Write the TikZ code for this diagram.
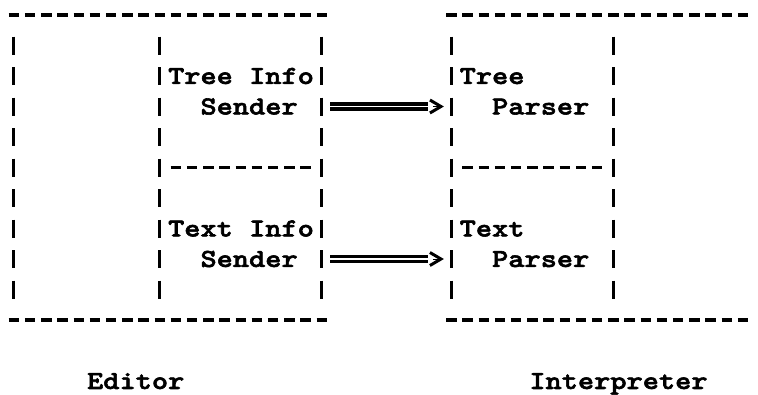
\documentclass[tikz,border=0pt]{standalone}
\usepackage{fontspec}
\newfontfamily\typer[Extension=.otf,FakeStretch=1.187,FakeBold=2.2]{lmmonolt10-bold}
\usetikzlibrary{arrows.meta}

\begin{document}
\begin{tikzpicture}[x=16.2pt,y=-30.5pt,
    every node/.style={inner sep=0pt,anchor=west,text height=15.9pt,text depth=0pt,
      font=\typer\fontsize{26}{30.5}\selectfont},
    hdash/.style={line width=3.2pt,dash pattern=on 10.5pt off 5.7pt},
    vbar/.style={line width=3pt,dash pattern=on 18pt off 12.5pt},
    pipe/.style={double,double distance=1.3pt,line width=3.6pt,shorten <=32.5pt,shorten >=64pt},
    pipehead/.style={-{Straight Barb[length=11pt,width=13pt,line width=3pt]},shorten <=135pt,shorten >=48pt}]
  \useasboundingbox (-0.864,-0.492) rectangle (45.926,12.426);

  \draw[hdash] ([xshift=-5.25pt]0,0) -- ([xshift=5.25pt]19,0);
  \draw[hdash] ([xshift=-5.25pt]27,0) -- ([xshift=5.25pt]45,0);
  \draw[hdash] ([xshift=-5.25pt]10,5) -- ([xshift=5.25pt]18,5);
  \draw[hdash] ([xshift=-5.25pt]28,5) -- ([xshift=5.25pt]36,5);
  \draw[hdash] ([xshift=-5.25pt]0,10) -- ([xshift=5.25pt]19,10);
  \draw[hdash] ([xshift=-5.25pt]27,10) -- ([xshift=5.25pt]45,10);

  \foreach \c in {0,9,19,27,37}
    \draw[vbar] ([yshift=9pt]\c,1) -- ([yshift=-9pt]\c,9);

  \node (treeinfo) at (9.5,2) {Tree Info};
  \node (treesnd) at (11.5,3) {Sender};
  \node (textinfo) at (9.5,7) {Text Info};
  \node (textsnd) at (11.5,8) {Sender};

  \node (treehd) at (27.5,2) {Tree};
  \node (treepar) at (29.5,3) {Parser};
  \node (texthd) at (27.5,7) {Text};
  \node (textpar) at (29.5,8) {Parser};

  \node (editor) at (4.5,12) {Editor};
  \node (interp) at (31.8,12) {Interpreter};

  \foreach \s/\p in {treesnd/treepar,textsnd/textpar}{
    \draw[pipe] (\s.east) -- (\p.west);
    \draw[pipehead] (\s.east) -- (\p.west);
  }
\end{tikzpicture}
\end{document}
